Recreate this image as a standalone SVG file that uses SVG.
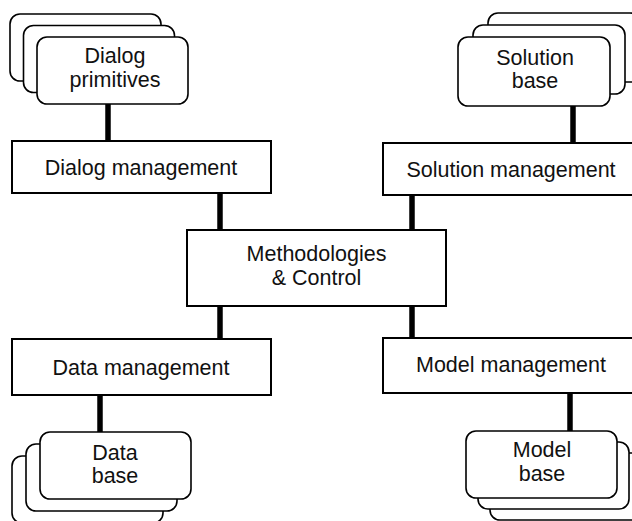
<svg xmlns="http://www.w3.org/2000/svg" width="632" height="521" viewBox="0 0 632 521">
<style>
.card{fill:#fff;stroke:#000;stroke-width:1.6}
.box{fill:#fff;stroke:#000;stroke-width:2}
.t{font-family:"Liberation Sans",Arial,sans-serif;font-size:21.5px;fill:#111;text-anchor:middle}
.c{stroke:#000;stroke-width:5.5;fill:none}
</style>
<rect width="632" height="521" fill="#fff"/>
<g id="connectors">
<line class="c" x1="108" y1="104" x2="108" y2="141"/>
<line class="c" x1="573" y1="106" x2="573" y2="143"/>
<line class="c" x1="220" y1="193" x2="220" y2="230"/>
<line class="c" x1="412" y1="195" x2="412" y2="230"/>
<line class="c" x1="220" y1="306" x2="220" y2="339"/>
<line class="c" x1="412" y1="306" x2="412" y2="338"/>
<line class="c" x1="100" y1="395" x2="100" y2="432"/>
<line class="c" x1="570" y1="393" x2="570" y2="431"/>
</g>
<g id="dialog-primitives">
<rect class="card" x="10" y="14" width="151" height="67" rx="10"/>
<rect class="card" x="23.5" y="25.5" width="151" height="67" rx="10"/>
<rect class="card" x="37" y="37" width="151" height="67" rx="10"/>
<text class="t" x="115" y="63">Dialog</text>
<text class="t" x="115" y="87">primitives</text>
</g>
<g id="solution-base">
<rect class="card" x="488" y="13" width="152" height="69" rx="10"/>
<rect class="card" x="473" y="25" width="152" height="69" rx="10"/>
<rect class="card" x="458" y="37" width="152" height="69" rx="10"/>
<text class="t" x="535" y="65">Solution</text>
<text class="t" x="535" y="88">base</text>
</g>
<g id="dialog-management">
<rect class="box" x="12" y="141" width="259" height="52"/>
<text class="t" x="141" y="175">Dialog management</text>
</g>
<g id="solution-management">
<rect class="box" x="383" y="143" width="257" height="52"/>
<text class="t" x="511" y="177">Solution management</text>
</g>
<g id="methodologies-control">
<rect class="box" x="187" y="230" width="259" height="76"/>
<text class="t" x="316.5" y="261">Methodologies</text>
<text class="t" x="316.5" y="285">&amp; Control</text>
</g>
<g id="data-management">
<rect class="box" x="12" y="339" width="259" height="56"/>
<text class="t" x="141" y="375">Data management</text>
</g>
<g id="model-management">
<rect class="box" x="383" y="338" width="257" height="55"/>
<text class="t" x="511" y="372">Model management</text>
</g>
<g id="data-base">
<rect class="card" x="12" y="456" width="151" height="67" rx="10"/>
<rect class="card" x="26" y="444" width="151" height="67" rx="10"/>
<rect class="card" x="40" y="432" width="151" height="67" rx="10"/>
<text class="t" x="115" y="460">Data</text>
<text class="t" x="115" y="483">base</text>
</g>
<g id="model-base">
<rect class="card" x="490" y="453" width="151" height="67" rx="10"/>
<rect class="card" x="478" y="442" width="151" height="67" rx="10"/>
<rect class="card" x="466" y="431" width="151" height="67" rx="10"/>
<text class="t" x="542" y="457">Model</text>
<text class="t" x="542" y="481">base</text>
</g>
</svg>
